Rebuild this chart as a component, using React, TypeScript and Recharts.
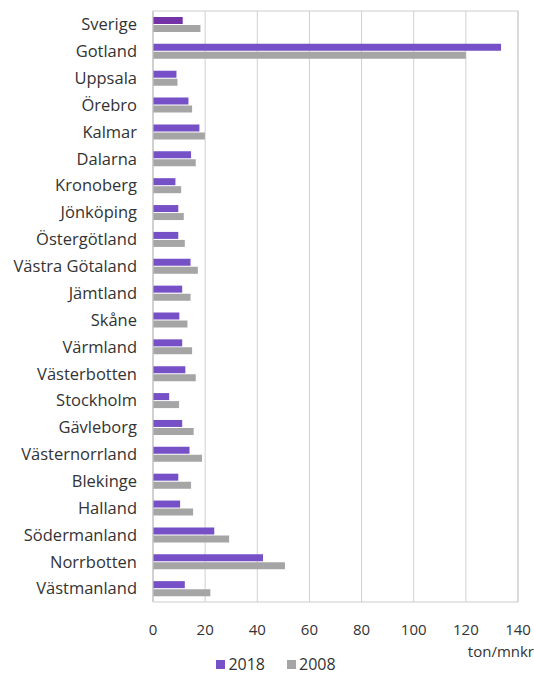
import React from "react";
import {
  BarChart,
  Bar,
  Cell,
  XAxis,
  YAxis,
  CartesianGrid,
  Legend,
  ReferenceArea,
} from "recharts";

const regions = [
  "Sverige", "Gotland", "Uppsala", "Örebro", "Kalmar", "Dalarna", "Kronoberg",
  "Jönköping", "Östergötland", "Västra Götaland", "Jämtland", "Skåne", "Värmland",
  "Västerbotten", "Stockholm", "Gävleborg", "Västernorrland", "Blekinge", "Halland",
  "Södermanland", "Norrbotten", "Västmanland",
];

const values2018 = [
  11.4, 133.5, 9.0, 13.6, 17.8, 14.6, 8.6, 9.7, 9.7, 14.4, 11.2, 10.1, 11.2,
  12.4, 6.2, 11.2, 14.0, 9.7, 10.4, 23.5, 42.2, 12.2,
];

const values2008 = [
  18.2, 120.0, 9.4, 15.0, 19.9, 16.4, 10.8, 11.8, 12.2, 17.2, 14.4, 13.2, 15.0,
  16.4, 10.0, 15.6, 18.8, 14.6, 15.4, 29.2, 50.6, 22.0,
];

const xTicks = [0, 20, 40, 60, 80, 100, 120, 140];

const data = regions.map((name, i) => ({
  name,
  y2018: values2018[i],
  y2008: values2008[i],
}));

const PURPLE = "#7650C6";
const PURPLE_DARK = "#7332A6";
const GRAY = "#A5A5A5";
const FONT = "'Open Sans', sans-serif";

const legendItems = [
  { label: "2018", color: PURPLE },
  { label: "2008", color: GRAY },
];

const LegendContent = () => (
  <div
    style={{
      display: "flex",
      justifyContent: "center",
      gap: 22,
      fontFamily: FONT,
      fontSize: 16,
      lineHeight: "18px",
      color: "#333",
      paddingLeft: 34,
      paddingTop: 5,
    }}
  >
    {legendItems.map((it) => (
      <div key={it.label} style={{ display: "flex", alignItems: "center", gap: 3 }}>
        <span style={{ width: 9, height: 9, background: it.color, display: "inline-block" }} />
        <span>{it.label}</span>
      </div>
    ))}
  </div>
);

const App = () => {
  return (
    <div style={{ position: "absolute", top: 0, left: 0, background: "#fff" }}>
      <BarChart
        width={534}
        height={674}
        data={data}
        layout="vertical"
        margin={{ top: 11, right: 16, bottom: 0, left: 0 }}
        barSize={7}
        barGap={1}
      >
        <CartesianGrid horizontal={false} stroke="#d0d0d0" />
        <ReferenceArea x1={0} x2={140} fill="none" stroke="#cccccc" ifOverflow="visible" />
        <XAxis
          type="number"
          domain={[0, 140]}
          ticks={xTicks}
          axisLine={false}
          tickLine={false}
          height={48}
          tickMargin={16}
          tick={{ fill: "#333", fontSize: 15, fontFamily: FONT }}
          label={{
            value: "ton/mnkr",
            position: "insideBottomRight",
            offset: -7,
            dx: 9,
            fill: "#333",
            fontSize: 15,
            fontFamily: FONT,
          }}
        />
        <YAxis
          type="category"
          dataKey="name"
          width={153}
          axisLine={{ stroke: "#c8c8c8" }}
          tickLine={false}
          tickSize={0}
          tickMargin={16}
          interval={0}
          tick={{ fill: "#333", fontSize: 16.5, fontFamily: FONT }}
        />
        <Legend verticalAlign="bottom" height={24} content={<LegendContent />} />
        <Bar dataKey="y2018" name="2018" fill={PURPLE} isAnimationActive={false}>
          {data.map((d, i) => (
            <Cell key={d.name} fill={i === 0 ? PURPLE_DARK : PURPLE} />
          ))}
        </Bar>
        <Bar dataKey="y2008" name="2008" fill={GRAY} isAnimationActive={false} />
      </BarChart>
    </div>
  );
};

export default App;
